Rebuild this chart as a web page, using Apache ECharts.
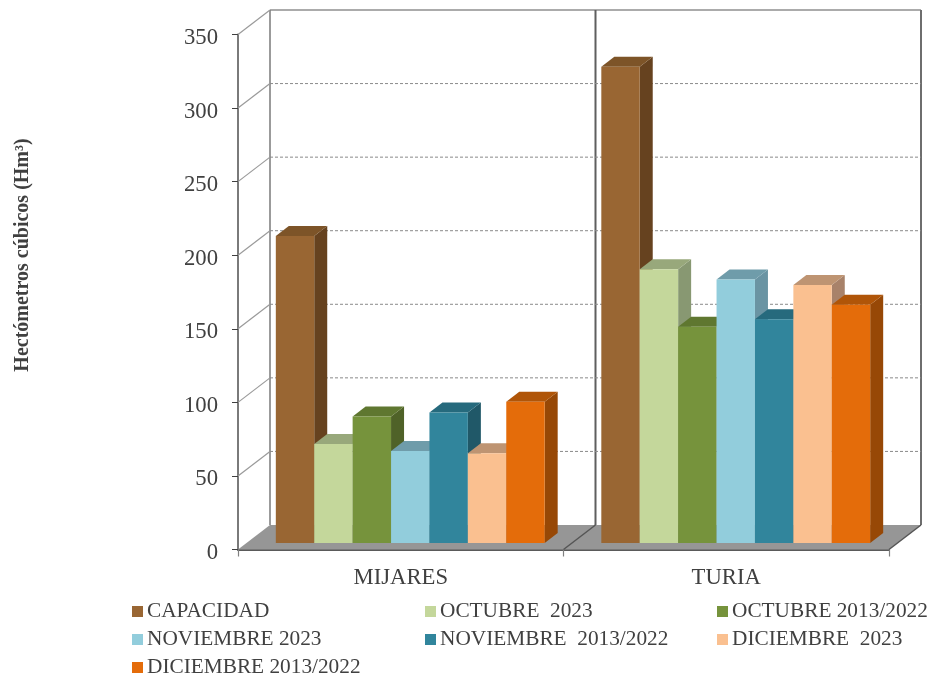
<!DOCTYPE html>
<html>
<head>
<meta charset="utf-8">
<script src="https://cdn.jsdelivr.net/npm/echarts@6/dist/echarts.min.js"></script>
<style>html,body{margin:0;padding:0;background:#fff}#c{width:929px;height:681px}</style>
</head>
<body>
<div id="c"></div>
<script>
var categories = ['MIJARES', 'TURIA'];
var yTicks = [0, 50, 100, 150, 200, 250, 300, 350];
var seriesNames = ['CAPACIDAD', 'OCTUBRE  2023', 'OCTUBRE 2013/2022', 'NOVIEMBRE 2023', 'NOVIEMBRE  2013/2022', 'DICIEMBRE  2023', 'DICIEMBRE 2013/2022'];
var capacidad = [208.6, 323.6];
var octubre2023 = [67.3, 186];
var octubre1322 = [86, 147];
var noviembre2023 = [62.5, 179];
var noviembre1322 = [88.7, 152];
var diciembre2023 = [61, 175.3];
var diciembre1322 = [96, 162];
var seriesValues = [capacidad, octubre2023, octubre1322, noviembre2023, noviembre1322, diciembre2023, diciembre1322];
var frontColors = ['#996633', '#C4D79B', '#76933C', '#92CDDC', '#31859C', '#FAC090', '#E46C0A'];
var topColors = ['#7D5428', '#98A87B', '#5F7730', '#6F9CAA', '#266A7D', '#BE9472', '#B05508'];
var sideColors = ['#66421F', '#889872', '#4F6228', '#6A94A3', '#205868', '#A8826A', '#974806'];

var WALL_DX = 32, WALL_DY = -24.5;   // depth of the box
var BAR_DX = 9.5, BAR_DY = -6.5;     // shift of the bars into the box
var DEPTH_DX = 13, DEPTH_DY = -10;   // depth of one bar
var BAR_SHARE = 0.118;               // bar width as share of a category band
var font = '"Liberation Serif","Times New Roman",serif';
var textColor = '#404040';

function seg(x1, y1, x2, y2, color, width, dash) {
  return { type: 'line', shape: { x1: x1, y1: y1, x2: x2, y2: y2 },
    style: { stroke: color, lineWidth: width, lineDash: dash || null } };
}
function poly(points, color) {
  return { type: 'polygon', shape: { points: points }, style: { fill: color } };
}

function renderFrame(params, api) {
  var r = params.coordSys;
  var x0 = r.x, x1 = r.x + r.width, xm = r.x + r.width / 2;
  var yZero = api.coord([0, 0])[1];
  var yTop = api.coord([0, yTicks[yTicks.length - 1]])[1];
  var c = [
    poly([[x0, yZero], [x1, yZero], [x1 + WALL_DX, yZero + WALL_DY], [x0 + WALL_DX, yZero + WALL_DY]], '#969696'),
    seg(x0 + WALL_DX, yTop + WALL_DY, x1 + WALL_DX, yTop + WALL_DY, '#ABABAB', 2),
    seg(x0 + WALL_DX, yTop + WALL_DY, x0 + WALL_DX, yZero + WALL_DY, '#7A7A7A', 1.5),
    seg(xm + WALL_DX, yTop + WALL_DY, xm + WALL_DX, yZero + WALL_DY, '#5F5F5F', 2),
    seg(x1 + WALL_DX, yTop + WALL_DY, x1 + WALL_DX, yZero + WALL_DY, '#6E6E6E', 2),
    seg(xm, yZero, xm + WALL_DX, yZero + WALL_DY, '#555555', 1.5),
    seg(x1, yZero, x1 + WALL_DX, yZero + WALL_DY, '#555555', 1.5)
  ];
  yTicks.forEach(function (v) {
    var y = api.coord([0, v])[1];
    if (v > 0) {
      c.push(seg(x0, y, x0 + WALL_DX, y + WALL_DY, '#9A9A9A', 1.2));
    }
    if (v > 0 && v < yTicks[yTicks.length - 1]) {
      c.push(seg(x0 + WALL_DX, y + WALL_DY, x1 + WALL_DX, y + WALL_DY, '#8A8A8A', 1, [3, 2]));
    }
  });
  return { type: 'group', children: c };
}

function makeRender(si) {
  return function (params, api) {
    var p = api.coord([api.value(0), api.value(1)]);
    var base = api.coord([api.value(0), 0]);
    var w = api.size([1, 0])[0] * BAR_SHARE;
    var l = p[0] + (si - 3.5) * w + BAR_DX;
    var rx = l + w;
    var t = p[1] + BAR_DY;
    var b = base[1] + BAR_DY;
    return { type: 'group', children: [
      poly([[rx, t], [rx + DEPTH_DX, t + DEPTH_DY], [rx + DEPTH_DX, b + DEPTH_DY], [rx, b]], sideColors[si]),
      poly([[l, t], [rx, t], [rx + DEPTH_DX, t + DEPTH_DY], [l + DEPTH_DX, t + DEPTH_DY]], topColors[si]),
      { type: 'rect', shape: { x: l, y: t, width: w, height: b - t }, style: { fill: frontColors[si] } }
    ] };
  };
}

var series = [{
  type: 'custom', name: 'frame', silent: true, clip: false, z: 1,
  data: [[0, 0]], encode: { x: 0, y: 1 }, renderItem: renderFrame
}];
seriesNames.forEach(function (n, si) {
  series.push({
    type: 'custom', name: n, clip: false, z: 2 + si,
    itemStyle: { color: frontColors[si] },
    encode: { x: 0, y: 1 },
    data: seriesValues[si].map(function (v, i) { return [i, v]; }),
    renderItem: makeRender(si)
  });
});

var legendLeft = [132, 425, 717];
var legendTop = [601, 629, 657];
var legends = seriesNames.map(function (n, i) {
  return {
    data: [n], left: legendLeft[i % 3], top: legendTop[Math.floor(i / 3)],
    padding: 0, icon: 'rect', itemWidth: 11, itemHeight: 11, selectedMode: false,
    textStyle: { fontFamily: font, fontSize: 21.3, color: textColor, padding: [0, 0, 0, -1] }
  };
});

var chart = echarts.init(document.getElementById('c'));
chart.setOption({
  animation: false,
  backgroundColor: '#ffffff',
  legend: legends,
  grid: { left: 238, top: 34.5, width: 651, height: 515 },
  xAxis: {
    type: 'category', data: categories,
    axisLine: { lineStyle: { color: '#5A5A5A', width: 2 } },
    axisTick: { show: true, length: 7, alignWithLabel: false, lineStyle: { color: '#808080', width: 1.2 } },
    axisLabel: { fontFamily: font, fontSize: 22.7, color: textColor, margin: 17 },
    splitLine: { show: false }
  },
  yAxis: {
    type: 'value', min: 0, max: 350, interval: 50,
    axisLine: { show: true, lineStyle: { color: '#7A7A7A', width: 2 } },
    axisTick: { show: true, length: 6, lineStyle: { color: '#404040', width: 1 } },
    axisLabel: { fontFamily: font, fontSize: 22.7, color: textColor, margin: 20, verticalAlign: 'top', padding: [-8, 0, 0, 0] },
    splitLine: { show: false }
  },
  graphic: [{
    type: 'text', x: 23, y: 255, rotation: Math.PI / 2,
    style: { text: 'Hectómetros cúbicos (Hm³)', font: 'bold 20px ' + font, fill: textColor, align: 'center', verticalAlign: 'middle' }
  }],
  series: series
});
</script>
</body>
</html>
